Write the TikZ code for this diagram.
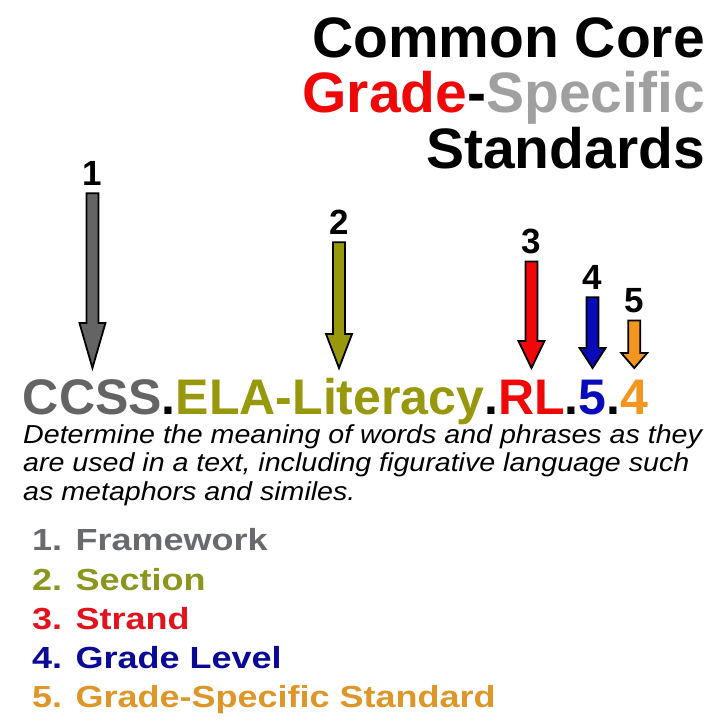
\documentclass[tikz,border=0pt]{standalone}
\usepackage{fontspec}
\setmainfont{Liberation Sans}
\newfontfamily\descfamily[FakeStretch=1.1]{Liberation Sans}
\newfontfamily\legendfamily[FakeStretch=1.18]{Liberation Sans}
\usetikzlibrary{positioning}

\definecolor{ccgray}{RGB}{100,100,100}
\definecolor{ccolive}{RGB}{152,152,12}
\definecolor{ccred}{RGB}{240,8,8}
\definecolor{ccblue}{RGB}{10,10,185}
\definecolor{ccorange}{RGB}{242,150,32}
\definecolor{titlegray}{RGB}{160,160,160}
\definecolor{leggray}{RGB}{105,105,112}
\definecolor{legolive}{RGB}{140,150,30}
\definecolor{legred}{RGB}{225,20,30}
\definecolor{legblue}{RGB}{10,10,150}
\definecolor{legorange}{RGB}{222,150,40}

\tikzset{
  codepart/.style={inner sep=0pt, outer sep=0pt,
    font=\fontsize{50}{60}\selectfont\bfseries},
  numlab/.style={inner sep=0pt, anchor=base,
    font=\fontsize{35}{40}\selectfont\bfseries},
  arrowbox/.style={draw=black, line width=1.8pt, line join=miter},
  legend/.style={inner sep=0pt, anchor=base west,
    font=\legendfamily\fontsize{30.5}{36}\selectfont\bfseries}
}

% shaft from below the label, head down to the tip
\newcommand{\blockarrow}[4]{%
  \draw[arrowbox, fill=#1]
    ([xshift=-6pt,yshift=-8pt]#2.south) -- ([xshift=-6pt,yshift=#4]#3)
    -- ([xshift=-13pt,yshift=#4]#3) -- (#3)
    -- ([xshift=13pt,yshift=#4]#3) -- ([xshift=6pt,yshift=#4]#3)
    -- ([xshift=6pt,yshift=-8pt]#2.south) -- cycle;}

\begin{document}
\begin{tikzpicture}[x=1pt,y=-1pt]
\fill[white] (0,0) rectangle (720,720);
\useasboundingbox (0,0) rectangle (720,720);

% base of a node of several lines is that of its last line
\node[inner sep=0pt, anchor=base east, align=right,
  font=\fontsize{57}{55.5}\selectfont\bfseries] (title) at (705,168)
  {Common Core\\
   \textcolor{ccred}{Grade}-\textcolor{titlegray}{Specific}\\
   Standards};

% the code, piece by piece
\node[codepart, anchor=base west, text=ccgray] (seg1) at (23,414) {CCSS};
\node[codepart, base right=0pt of seg1] (dot1) {.};
\node[codepart, base right=0pt of dot1, text=ccolive] (seg2) {ELA-Literacy};
\node[codepart, base right=0pt of seg2] (dot2) {.};
\node[codepart, base right=0pt of dot2, text=ccred] (seg3) {RL};
\node[codepart, base right=0pt of seg3] (dot3) {.};
\node[codepart, base right=0pt of dot3, text=ccblue] (seg4) {5};
\node[codepart, base right=0pt of seg4] (dot4) {.};
\node[codepart, base right=0pt of dot4, text=ccorange] (seg5) {4};

\node[numlab] (n1) at (seg1.center |- 0,185) {1};
\node[numlab, xshift=9pt] (n2) at (seg2.center |- 0,234) {2};
\node[numlab] (n3) at (seg3.center |- 0,253) {3};
\node[numlab] (n4) at (seg4.center |- 0,289) {4};
\node[numlab] (n5) at (seg5.center |- 0,312) {5};

\coordinate (tipline) at (0,368);
\coordinate (t1) at (n1 |- tipline);
\coordinate (t2) at (n2 |- tipline);
\coordinate (t3) at (n3 |- tipline);
\coordinate (t4) at (n4 |- tipline);
\coordinate (t5) at (n5 |- tipline);

\blockarrow{ccgray}{n1}{t1}{45pt}
\blockarrow{ccolive}{n2}{t2}{34pt}
\blockarrow{ccred}{n3}{t3}{27pt}
\blockarrow{ccblue}{n4}{t4}{20pt}
\blockarrow{ccorange}{n5}{t5}{15pt}

\node[inner sep=0pt, anchor=base west, align=left,
  font=\descfamily\itshape\fontsize{26}{28.5}\selectfont] (desc) at (23,500)
  {Determine the meaning of words and phrases as they\\
   are used in a text, including figurative language such\\
   as metaphors and similes.};

\node[legend, text=leggray] (leg1) at (32,550) {1. Framework};
\node[legend, text=legolive] (leg2) at (32,590) {2. Section};
\node[legend, text=legred] (leg3) at (32,629) {3. Strand};
\node[legend, text=legblue] (leg4) at (32,668) {4. Grade Level};
\node[legend, text=legorange] (leg5) at (32,707) {5. Grade-Specific Standard};
\end{tikzpicture}
\end{document}
